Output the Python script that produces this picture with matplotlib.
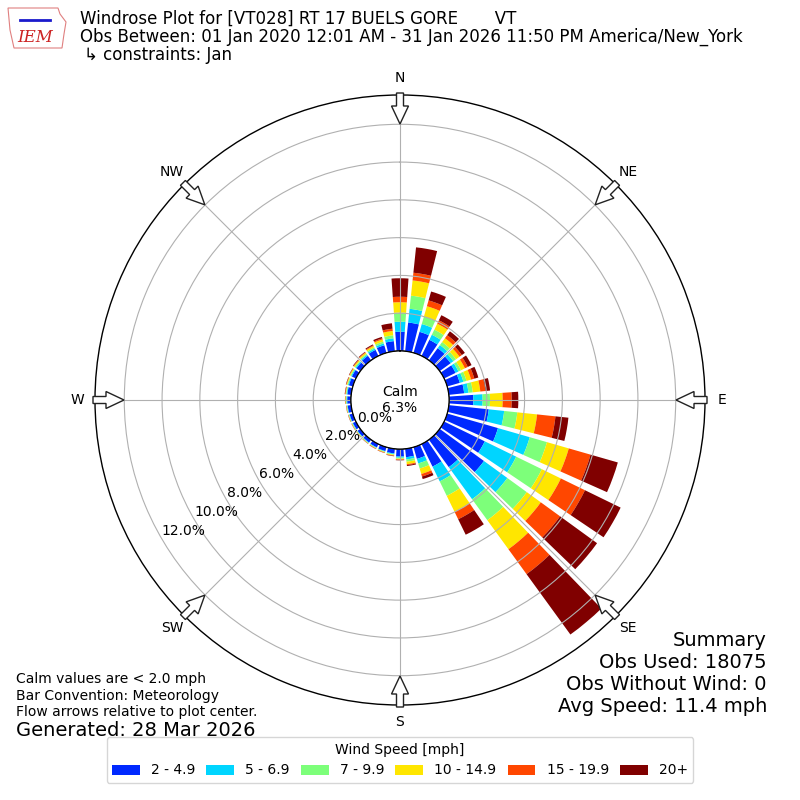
import numpy as np
import matplotlib
matplotlib.use("Agg")
import matplotlib.pyplot as plt
from matplotlib.patches import Patch, FancyArrow, Polygon

# ---------------- data (percent of observations) ----------------
directions = list(range(0, 360, 10))
speed_labels = ["2 - 4.9", "5 - 6.9", "7 - 9.9", "10 - 14.9", "15 - 19.9", "20+"]

spd_2_5 = [1.02, 1.53, 1.16, 0.95, 0.80, 0.72, 0.68, 0.70, 0.82, 1.29, 2.13, 2.80,
           2.40, 2.90, 1.80, 1.33, 0.65, 0.45, 0.40, 0.25, 0.22, 0.20, 0.19, 0.18,
           0.18, 0.18, 0.19, 0.20, 0.21, 0.22, 0.24, 0.26, 0.30, 0.36, 0.42, 0.54]
spd_5_7 = [0.53, 0.73, 0.43, 0.30, 0.20, 0.18, 0.17, 0.20, 0.23, 0.49, 0.82, 1.75,
           1.85, 1.53, 2.10, 0.87, 0.25, 0.12, 0.06, 0.04, 0.03, 0.03, 0.03, 0.03,
           0.03, 0.03, 0.03, 0.04, 0.04, 0.05, 0.05, 0.06, 0.07, 0.08, 0.10, 0.15]
spd_7_10 = [0.48, 0.70, 0.41, 0.30, 0.20, 0.17, 0.15, 0.17, 0.23, 0.39, 0.70, 0.95,
            1.51, 1.27, 1.37, 0.85, 0.28, 0.12, 0.05, 0.03, 0.02, 0.02, 0.02, 0.02,
            0.02, 0.02, 0.02, 0.03, 0.03, 0.04, 0.04, 0.05, 0.06, 0.07, 0.10, 0.16]
spd_10_15 = [0.55, 0.81, 0.57, 0.35, 0.25, 0.23, 0.23, 0.25, 0.40, 0.67, 1.05, 1.20,
             1.12, 0.92, 1.90, 0.95, 0.30, 0.13, 0.04, 0.04, 0.03, 0.02, 0.02, 0.02,
             0.02, 0.02, 0.02, 0.03, 0.03, 0.04, 0.05, 0.06, 0.07, 0.08, 0.12, 0.23]
spd_15_20 = [0.29, 0.41, 0.32, 0.20, 0.20, 0.15, 0.17, 0.18, 0.27, 0.48, 0.98, 1.20,
             1.42, 1.26, 1.63, 0.43, 0.14, 0.05, 0.03, 0.02, 0.02, 0.02, 0.01, 0.01,
             0.01, 0.01, 0.01, 0.01, 0.02, 0.02, 0.02, 0.03, 0.03, 0.04, 0.06, 0.12]
spd_20p = [0.98, 1.35, 0.49, 0.30, 0.25, 0.20, 0.22, 0.22, 0.25, 0.35, 0.69, 1.50,
           2.10, 2.42, 3.95, 0.91, 0.14, 0.05, 0.02, 0.02, 0.01, 0.01, 0.01, 0.01,
           0.01, 0.01, 0.01, 0.01, 0.02, 0.02, 0.02, 0.03, 0.03, 0.05, 0.08, 0.29]
series = [spd_2_5, spd_5_7, spd_7_10, spd_10_15, spd_15_20, spd_20p]

calm_pct = 6.3
rgrid_values = [0, 2, 4, 6, 8, 10, 12]
compass_angles = [0, 45, 90, 135, 180, 225, 270, 315]
compass_labels = ["N", "NE", "E", "SE", "S", "SW", "W", "NW"]

# ---------------- figure ----------------
fig = plt.figure(figsize=(8, 8), dpi=100)
ax = fig.add_axes([95 / 800, 95 / 800, 610 / 800, 610 / 800], projection="polar")
ax.set_theta_zero_location("N")
ax.set_theta_direction(-1)

colors = [plt.cm.jet((i + 1) / 6.0) for i in range(6)]
theta = np.deg2rad(directions)
bottom = np.zeros(len(directions))
for vals, col, lab in zip(series, colors, speed_labels):
    vals = np.asarray(vals)
    ax.bar(theta, vals, width=np.deg2rad(8), bottom=bottom, color=col,
           edgecolor="none", align="center", label=lab, zorder=1)
    bottom = bottom + vals

rmax = 13.55
ax.set_ylim(0, rmax)
ax.set_rorigin(-rmax * 49 / 256)

ax.set_rgrids(rgrid_values, labels=[f"{v:.1f}%" for v in rgrid_values], fontsize=10)
ax.set_rlabel_position(240)
ax.set_thetagrids(compass_angles, labels=compass_labels, fontsize=10)
ax.tick_params(axis="x", pad=2)
ax.grid(True, color="#b0b0b0", lw=0.8)
ax.spines["polar"].set_color("black")
ax.spines["polar"].set_linewidth(1.0)

# inner calm circle
tt = np.linspace(0, 2 * np.pi, 361)
ax.plot(tt, np.zeros_like(tt), color="black", lw=1.0, zorder=3)
ax.text(0, ax.get_rorigin(), f"Calm\n{calm_pct:.1f}%", ha="center", va="center",
        fontsize=10, zorder=4)

# flow arrows at compass points (axes-fraction coords, axes is square)
px = 1.0 / 610
for a in compass_angles:
    s, c = np.sin(np.deg2rad(a)), np.cos(np.deg2rad(a))
    r0 = 0.5 + 2 * px
    L = 31 * px
    arr = FancyArrow(0.5 + r0 * s, 0.5 + r0 * c, -L * s, -L * c,
                     width=7 * px, head_width=17 * px, head_length=18 * px,
                     length_includes_head=True, transform=ax.transAxes,
                     facecolor="white", edgecolor="#222222", lw=1.0,
                     clip_on=False, zorder=5)
    ax.add_patch(arr)

# ---------------- logo (simple stand-in) ----------------
logo_x = [8, 58, 60, 66, 64, 62, 14, 10, 8]
logo_y = [8, 8, 14, 22, 34, 48, 48, 30, 8]
fig.add_artist(Polygon(np.column_stack([np.array(logo_x) / 800, 1 - np.array(logo_y) / 800]),
                       closed=True, fill=False, edgecolor="#e08080", lw=0.8,
                       transform=fig.transFigure))
fig.add_artist(plt.Line2D([20 / 800, 50 / 800], [1 - 20 / 800, 1 - 20 / 800],
                          color="#1a1acc", lw=2, transform=fig.transFigure))
fig.text(35 / 800, 1 - 38 / 800, "IEM", fontsize=12, color="#cc2222",
         family="DejaVu Serif", style="italic", ha="center", va="center")

# ---------------- text ----------------
fig.text(80 / 800, 1 - 19 / 800,
         "Windrose Plot for [VT028] RT 17 BUELS GORE       VT",
         fontsize=12, va="center", ha="left")
fig.text(80 / 800, 1 - 37 / 800,
         "Obs Between: 01 Jan 2020 12:01 AM - 31 Jan 2026 11:50 PM America/New_York",
         fontsize=12, va="center", ha="left")
fig.text(84 / 800, 1 - 55 / 800, "\u21b3 constraints: Jan", fontsize=12,
         va="center", ha="left")

fig.text(16 / 800, 1 - 679 / 800, "Calm values are < 2.0 mph", fontsize=10, va="center")
fig.text(16 / 800, 1 - 696 / 800, "Bar Convention: Meteorology", fontsize=10, va="center")
fig.text(16 / 800, 1 - 712 / 800, "Flow arrows relative to plot center.", fontsize=10,
         va="center")
fig.text(16 / 800, 1 - 730 / 800, "Generated: 28 Mar 2026", fontsize=14, va="center")

summary = ["Summary", "Obs Used: 18075", "Obs Without Wind: 0", "Avg Speed: 11.4 mph"]
for i, line in enumerate(summary):
    fig.text(767 / 800, 1 - (640 + 22 * i) / 800, line, fontsize=14, ha="right",
             va="center")

handles = [Patch(facecolor=c, label=l) for c, l in zip(colors, speed_labels)]
fig.legend(handles=handles, loc="lower center", bbox_to_anchor=(0.5, 0.0125),
           ncol=6, title="Wind Speed [mph]", fontsize=10, title_fontsize=10,
           frameon=True, columnspacing=0.8)

fig.savefig("out.png", dpi=100)
